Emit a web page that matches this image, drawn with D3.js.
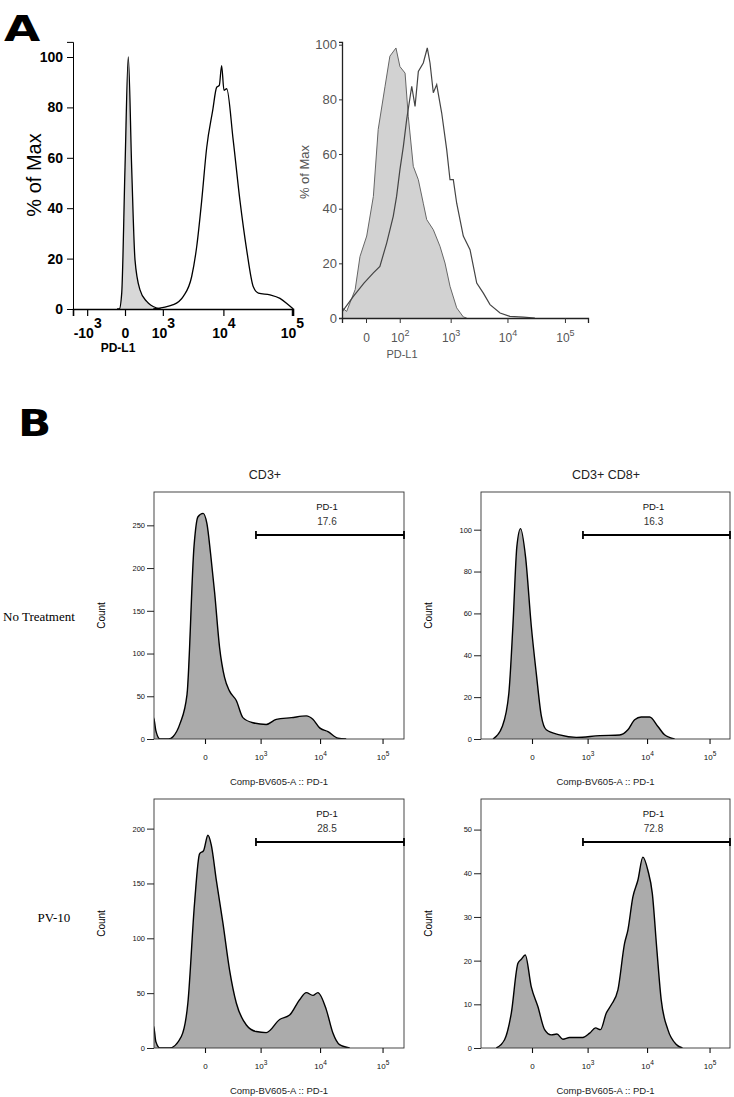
<!DOCTYPE html>
<html><head><meta charset="utf-8">
<script src="https://cdn.jsdelivr.net/npm/d3@7"></script>
<style>body{margin:0;background:#fff}svg{display:block}</style>
</head><body>
<script>
// ---------------- DATA ----------------
// Panel A (left): % of Max vs PD-L1 (fluorescence units)
const aLeftIsotype = [[-120,0],[-83,0],[-46,6.3],[0,56],[46,100],[99,56],[157,19.5],[257,7.6],[421,3],[743,0.4],[900,0]];
const aLeftPDL1 = [[620,0],[1580,1.7],[2360,5],[3240,12.9],[3900,24.8],[4670,43],[5580,64],[6900,78.8],[7930,88],[8680,88.7],[9410,96.6],[10200,86.8],[11200,87.4],[14000,66.9],[17600,43],[22100,23.4],[27600,8.8],[32700,6.3],[48200,5.6],[67300,4.2],[88800,1.7],[105000,0]];
const aLeftYTicks = [0,20,40,60,80,100];
const aLeftXTicks = [-1000,0,1000,10000,100000];
// Panel A (right)
const aRightControl = [[-80,4],[-55,3.7],[-41,2.4],[-19,10.4],[-9.5,22.5],[1,30],[12,44.5],[22,69],[40,84.8],[56,95.8],[81,98.8],[101,92],[132,89.6],[155,73.8],[197,55.5],[249,50.6],[311,42],[362,36],[482,32.3],[641,26.2],[790,20.1],[973,11.6],[1282,3.7],[1680,0.4],[1930,0]];
const aRightPDL1 = [[-80,2],[-55,2.4],[-23,7.9],[-3,12.8],[12,16.5],[26,18.9],[45,27.4],[69,37.2],[84,44.5],[101,54.3],[121,62.8],[143,72.6],[183,84.8],[214,77.4],[249,90.2],[311,93.3],[371,98.8],[418,93.3],[482,82.4],[557,85.4],[688,75],[848,61.6],[973,50.6],[1115,50.6],[1282,42],[1680,30],[2210,25],[2900,12.8],[3790,9.1],[4960,4.9],[7430,1.8],[11000,0.6],[19000,0.3],[30000,0]];
const aRightYTicks = [0,20,40,60,80,100];
const aRightXTicks = [0,100,1000,10000,100000];
// Panel B: Count vs Comp-BV605-A :: PD-1
const bNoTreatCD3 = [[-900,25],[-836,25],[-760,10],[-630,0],[-420,0],[-330,3],[-225,18],[-140,52],[-74,226],[-44,260],[-11,264],[11,252],[34,217],[63,172],[106,107],[157,72],[219,56],[322,45],[451,25],[717,19],[1266,17],[1890,23],[3390,25],[5990,27],[7650,23],[9850,13],[13400,8.6],[19400,1],[26300,0]];
const bNoTreatCD8 = [[-476,0],[-296,6],[-200,22],[-152,54],[-111,92],[-78,100.5],[-40,87],[-4,54],[26,31],[61,11],[103,4.4],[263,2],[609,0.8],[1640,1.6],[3570,1.9],[4880,4.4],[6290,9.2],[8040,10.5],[11000,10.5],[14950,6],[19100,2],[27700,0]];
const bPV10CD3 = [[-900,20],[-836,20],[-760,6],[-630,0],[-400,0],[-207,10.5],[-131,41],[-70,132],[-33,177],[-8,180],[17,194],[39,185],[77,153],[139,114],[219,71],[322,41],[532,21],[830,15],[1266,14],[2160,26],[3180,30],[4650,44],[5990,50.5],[7650,48],[9230,50.5],[12600,35],[16100,13.6],[20600,3],[29900,0]];
const bPV10CD8 = [[-405,0],[-260,1.9],[-170,8],[-101,19.4],[-72,20.3],[-42,21.3],[-4,14],[36,9.5],[88,4.2],[153,3],[224,3.2],[315,2],[445,2.4],[817,2.4],[1090,3.4],[1390,4.6],[1690,4.2],[2130,8],[2590,9.9],[3340,13.3],[4310,24],[4880,27],[5890,34.6],[7100,38.4],[8560,43.7],[10300,40.7],[12150,35.4],[14400,22.4],[16900,11],[21600,4.2],[29500,0.8],[37000,0]];
const bYMax = [289, 118, 227, 57];
const bYMajor = [[0,50,100,150,200,250],[0,20,40,60,80,100],[0,50,100,150,200],[0,10,20,30,40,50]];
const bYMinorStep = [10, 5, 10, 2];
const bXTicks = [0,1000,10000,100000];
const bGateStart = 820;
const bGatePct = ["17.6","16.3","28.5","72.8"];
const bColTitles = ["CD3+","CD3+ CD8+"];
const bRowTitles = ["No Treatment","PV-10"];
const gateName = "PD-1";
const xAxisName = "Comp-BV605-A :: PD-1";

// ---------------- HELPERS ----------------
const FONT = "'Liberation Sans', Arial, Helvetica, sans-serif";
const svg = d3.select("body").append("svg").attr("width",734).attr("height",1097);
svg.append("rect").attr("width",734).attr("height",1097).attr("fill","#fff");

function symX(c,k,zeroPx,x0,x1){
  const inv = p => { const d=p-zeroPx; return Math.sign(d)*(Math.exp(Math.abs(d)/k)-1)*c; };
  return d3.scaleSymlog().constant(c).domain([inv(x0),inv(x1)]).range([x0,x1]);
}
function logMinors(dom){
  const out=[];
  for(let e=1;e<=6;e++) for(let m=1;m<10;m++){
    const v=m*Math.pow(10,e);
    for(const s of [1,-1]){ const t=s*v; if(t>dom[0]&&t<dom[1]) out.push(t); }
  }
  return out;
}
function linMinors(max, step, majors){
  const out=[]; for(let v=0; v<=max+1e-9; v+=step){ if(!majors.includes(v)) out.push(v);} return out;
}
function expLabel(sel, v, supSize, supDy){
  sel.text(null);
  if(v===0){ sel.text("0"); return; }
  const e=Math.round(Math.log10(Math.abs(v)));
  sel.append("tspan").text((v<0?"-":"")+"10");
  sel.append("tspan").attr("dy",-supDy).attr("font-size",supSize).text(e);
}
let clipId=0;
function clip(x0,y0,w,h){
  const id="c"+(clipId++);
  svg.append("clipPath").attr("id",id).append("rect").attr("x",x0).attr("y",y0).attr("width",w).attr("height",h);
  return "url(#"+id+")";
}

// ---------------- PANEL LABELS ----------------
svg.append("text").text("A").attr("font-family","'DejaVu Sans', sans-serif").attr("font-weight","bold")
  .attr("font-size",36).attr("transform","translate(4,41) scale(1.3,1)");
svg.append("text").text("B").attr("font-family","'DejaVu Sans', sans-serif").attr("font-weight","bold")
  .attr("font-size",38).attr("transform","translate(18,436) scale(1.15,1)");

// ---------------- PANEL A LEFT ----------------
{
  const x = symX(400, 30.2, 125, 73, 293);
  const y = d3.scaleLinear().domain([0,106]).range([309, 309-106*2.52]);
  const g = svg.append("g");
  const cp = clip(73, 30, 221, 280);
  const area = d3.area().x(d=>x(d[0])).y0(y(0)).y1(d=>y(d[1])).curve(d3.curveMonotoneX);
  const line = d3.line().x(d=>x(d[0])).y(d=>y(d[1])).curve(d3.curveMonotoneX);
  g.append("path").datum(aLeftIsotype).attr("d",area).attr("fill","#d8d8d8").attr("clip-path",cp);
  g.append("path").datum(aLeftIsotype).attr("d",line).attr("fill","none").attr("stroke","#000").attr("stroke-width",1.3).attr("clip-path",cp);
  g.append("path").datum(aLeftPDL1).attr("d",line).attr("fill","none").attr("stroke","#000").attr("stroke-width",1.3).attr("clip-path",cp);
  // y axis
  const ya = g.append("g").attr("transform","translate(73,0)");
  ya.call(d3.axisLeft(y).tickValues(linMinors(105,5,aLeftYTicks)).tickSize(3).tickFormat(""));
  ya.call(d3.axisLeft(y).tickValues(aLeftYTicks).tickSize(6).tickPadding(4).tickFormat(d3.format("d")));
  ya.selectAll("text").attr("font-family",FONT).attr("font-weight","bold").attr("font-size",14).attr("fill","#000");
  ya.selectAll("line").attr("stroke","#000");
  ya.select(".domain").attr("stroke","#000");
  // x axis
  const xa = g.append("g").attr("transform","translate(0,309)");
  xa.call(d3.axisBottom(x).tickValues(logMinors(x.domain())).tickSize(4).tickFormat(""));
  xa.call(d3.axisBottom(x).tickValues(aLeftXTicks).tickSize(7).tickPadding(6).tickFormat(""));
  xa.selectAll("line").attr("stroke","#000").attr("stroke-width",1.2);
  xa.select(".domain").attr("stroke","#000").attr("stroke-width",1.6);
  xa.selectAll(".tick").filter(d=>aLeftXTicks.includes(d)).select("text")
    .attr("y",29).attr("dy",0).attr("font-family",FONT).attr("font-weight","bold").attr("font-size",14).attr("fill","#000")
    .each(function(d){ expLabel(d3.select(this), d, 14, 10); });
  g.append("text").text("% of Max").attr("font-family",FONT).attr("font-size",20)
    .attr("transform","translate(41,175) rotate(-90)").attr("text-anchor","middle");
  g.append("text").text("PD-L1").attr("font-family",FONT).attr("font-weight","bold").attr("font-size",12)
    .attr("x",118).attr("y",352).attr("text-anchor","middle");
}

// ---------------- PANEL A RIGHT ----------------
{
  const x = symX(35, 25, 366, 342, 588);
  const y = d3.scaleLinear().domain([0,101]).range([318, 318-101*2.733]);
  const g = svg.append("g");
  const cp = clip(342, 30, 247, 289);
  const area = d3.area().x(d=>x(d[0])).y0(y(0)).y1(d=>y(d[1]));
  const line = d3.line().x(d=>x(d[0])).y(d=>y(d[1]));
  g.append("path").datum(aRightControl).attr("d",area).attr("fill","#d2d2d2").attr("clip-path",cp);
  g.append("path").datum(aRightControl).attr("d",line).attr("fill","none").attr("stroke","#666").attr("stroke-width",1).attr("clip-path",cp);
  g.append("path").datum(aRightPDL1).attr("d",line).attr("fill","none").attr("stroke","#444").attr("stroke-width",1.2).attr("clip-path",cp);
  const ya = g.append("g").attr("transform","translate(342,0)");
  ya.call(d3.axisLeft(y).tickValues(linMinors(100,4,aRightYTicks)).tickSize(2).tickFormat(""));
  ya.call(d3.axisLeft(y).tickValues(aRightYTicks).tickSize(3).tickPadding(2).tickFormat(d3.format("d")));
  ya.selectAll("text").attr("font-family",FONT).attr("font-size",13).attr("fill","#555");
  ya.selectAll("line").attr("stroke","#333");
  ya.select(".domain").attr("stroke","#222").attr("stroke-width",1.3);
  const xa = g.append("g").attr("transform","translate(0,318)");
  xa.call(d3.axisBottom(x).tickValues(logMinors(x.domain())).tickSize(3).tickFormat(""));
  xa.call(d3.axisBottom(x).tickValues(aRightXTicks).tickSize(5).tickFormat(""));
  xa.selectAll("line").attr("stroke","#333");
  xa.select(".domain").attr("stroke","#222").attr("stroke-width",1.3);
  xa.selectAll(".tick").filter(d=>aRightXTicks.includes(d)).select("text")
    .attr("y",24).attr("dy",0).attr("font-family",FONT).attr("font-size",12).attr("fill","#555")
    .each(function(d){ expLabel(d3.select(this), d, 9, 6); });
  g.append("text").text("% of Max").attr("font-family",FONT).attr("font-size",13).attr("fill","#555")
    .attr("transform","translate(309,172) rotate(-90)").attr("text-anchor","middle");
  g.append("text").text("PD-L1").attr("font-family",FONT).attr("font-size",11).attr("fill","#555")
    .attr("x",402).attr("y",358).attr("text-anchor","middle");
}

// ---------------- PANEL B ----------------
const bData = [bNoTreatCD3, bNoTreatCD8, bPV10CD3, bPV10CD8];
const bFrames = [
  {left:154, top:492, w:250, h:247},
  {left:481, top:492, w:249, h:247},
  {left:154, top:799, w:250, h:249},
  {left:481, top:799, w:249, h:249}
];
bFrames.forEach((f,i)=>{
  const x = symX(150, 27.3, f.left+51, f.left, f.left+f.w);
  const y = d3.scaleLinear().domain([0,bYMax[i]]).range([f.top+f.h, f.top]);
  const g = svg.append("g");
  const cp = clip(f.left, f.top, f.w, f.h);
  const area = d3.area().x(d=>x(d[0])).y0(y(0)).y1(d=>y(d[1])).curve(d3.curveMonotoneX);
  const line = d3.line().x(d=>x(d[0])).y(d=>y(d[1])).curve(d3.curveMonotoneX);
  g.append("path").datum(bData[i]).attr("d",area).attr("fill","#ababab").attr("clip-path",cp);
  g.append("path").datum(bData[i]).attr("d",line).attr("fill","none").attr("stroke","#000").attr("stroke-width",1.4).attr("clip-path",cp);
  g.append("rect").attr("x",f.left).attr("y",f.top).attr("width",f.w).attr("height",f.h)
    .attr("fill","none").attr("stroke","#333").attr("stroke-width",0.9);
  // y axis
  const ya = g.append("g").attr("transform",`translate(${f.left},0)`);
  ya.call(d3.axisLeft(y).tickValues(linMinors(bYMax[i], bYMinorStep[i], bYMajor[i])).tickSize(3).tickFormat(""));
  ya.call(d3.axisLeft(y).tickValues(bYMajor[i]).tickSize(7).tickPadding(2).tickFormat(d3.format("d")));
  ya.selectAll("text").attr("font-family",FONT).attr("font-size",7.5).attr("fill","#111");
  ya.selectAll("line").attr("stroke","#222");
  ya.select(".domain").remove();
  // x axis
  const xa = g.append("g").attr("transform",`translate(0,${f.top+f.h})`);
  xa.call(d3.axisBottom(x).tickValues(logMinors(x.domain())).tickSize(3).tickFormat(""));
  xa.call(d3.axisBottom(x).tickValues(bXTicks).tickSize(5).tickFormat(""));
  xa.selectAll("line").attr("stroke","#111").attr("stroke-width",1.1);
  xa.select(".domain").remove();
  xa.selectAll(".tick").filter(d=>bXTicks.includes(d)).select("text")
    .attr("y",21).attr("dy",0).attr("font-family",FONT).attr("font-size",8).attr("fill","#111")
    .each(function(d){ expLabel(d3.select(this), d, 6.5, 4); });
  // gate
  const gx0 = x(bGateStart), gx1 = f.left+f.w, gy = f.top+43;
  g.append("line").attr("x1",gx0).attr("x2",gx1).attr("y1",gy).attr("y2",gy).attr("stroke","#000").attr("stroke-width",2);
  [gx0,gx1].forEach(xx=>g.append("line").attr("x1",xx).attr("x2",xx).attr("y1",gy-4).attr("y2",gy+4).attr("stroke","#000").attr("stroke-width",1.8));
  const cx = (gx0+gx1)/2 - 3;
  g.append("text").text(gateName).attr("x",cx).attr("y",f.top+18).attr("text-anchor","middle")
    .attr("font-family",FONT).attr("font-size",9.5).attr("fill","#111");
  g.append("text").text(bGatePct[i]).attr("x",cx).attr("y",f.top+33).attr("text-anchor","middle")
    .attr("font-family",FONT).attr("font-size",10).attr("fill","#333");
  // labels
  g.append("text").text("Count").attr("font-family",FONT).attr("font-size",10)
    .attr("transform",`translate(${f.left-49},${f.top+f.h/2}) rotate(-90)`).attr("text-anchor","middle");
  g.append("text").text(xAxisName).attr("font-family",FONT).attr("font-size",9.5).attr("fill","#222")
    .attr("x",f.left+f.w/2).attr("y",f.top+f.h+46).attr("text-anchor","middle");
  if(i<2){
    g.append("text").text(bColTitles[i]).attr("font-family",FONT).attr("font-size",12.5).attr("fill","#222")
      .attr("x", i===0 ? 265 : 606).attr("y",f.top-13).attr("text-anchor","middle");
  }
});
svg.append("text").text(bRowTitles[0]).attr("font-family","'Liberation Serif', 'Times New Roman', serif").attr("font-size",13)
  .attr("x",3).attr("y",621);
svg.append("text").text(bRowTitles[1]).attr("font-family","'Liberation Serif', 'Times New Roman', serif").attr("font-size",13)
  .attr("x",54).attr("y",922).attr("text-anchor","middle");
</script>
</body></html>
